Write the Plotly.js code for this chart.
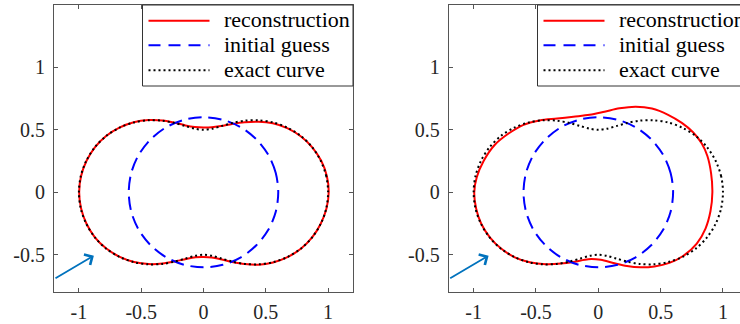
<!DOCTYPE html>
<html>
<head>
<meta charset="utf-8">
<script src="https://cdn.plot.ly/plotly-3.0.1.min.js"></script>
<style>html,body{margin:0;padding:0;overflow:hidden;background:#fff;}#chart{width:750px;height:324px;}</style>
</head>
<body>
<div id="chart"></div>
<script>
// Series names
const seriesNames = ["reconstruction", "initial guess", "exact curve"];

// Exact curve (same in both panels)
const exactX = [1,0.985,0.941,0.872,0.781,0.674,0.559,0.442,0.331,0.230,0.142,0.067,0,-0.067,-0.142,-0.230,-0.331,-0.442,-0.559,-0.674,-0.781,-0.872,-0.941,-0.985,-1,-0.985,-0.941,-0.872,-0.781,-0.674,-0.559,-0.442,-0.331,-0.230,-0.142,-0.067,0,0.067,0.142,0.230,0.331,0.442,0.559,0.674,0.781,0.872,0.941,0.985,1];
const exactY = [0,0.130,0.252,0.361,0.451,0.517,0.559,0.576,0.573,0.554,0.529,0.508,0.500,0.508,0.529,0.554,0.573,0.576,0.559,0.517,0.451,0.361,0.252,0.130,0,-0.130,-0.252,-0.361,-0.451,-0.517,-0.559,-0.576,-0.573,-0.554,-0.529,-0.508,-0.500,-0.508,-0.529,-0.554,-0.573,-0.576,-0.559,-0.517,-0.451,-0.361,-0.252,-0.130,0];

// Initial guess (same in both panels)
const guessX = [0.6,0.58,0.52,0.424,0.3,0.155,0,-0.155,-0.3,-0.424,-0.52,-0.58,-0.6,-0.58,-0.52,-0.424,-0.3,-0.155,0,0.155,0.3,0.424,0.52,0.58,0.6];
const guessY = [0,0.155,0.3,0.424,0.52,0.58,0.6,0.58,0.52,0.424,0.3,0.155,0,-0.155,-0.3,-0.424,-0.52,-0.58,-0.6,-0.58,-0.52,-0.424,-0.3,-0.155,0];

// Reconstruction, left panel
const reconLeftX = [1.005,0.99,0.945,0.873,0.78,0.672,0.556,0.44,0.33,0.23,0.14,0.065,0,-0.07,-0.145,-0.23,-0.33,-0.44,-0.56,-0.675,-0.782,-0.872,-0.94,-0.983,-0.998,-0.983,-0.94,-0.872,-0.78,-0.672,-0.557,-0.44,-0.33,-0.23,-0.14,-0.065,0,0.067,0.14,0.23,0.33,0.44,0.558,0.674,0.781,0.872,0.941,0.987,1.005];
const reconLeftY = [0,0.13,0.252,0.36,0.448,0.513,0.552,0.565,0.561,0.547,0.53,0.52,0.518,0.522,0.535,0.557,0.575,0.578,0.561,0.518,0.451,0.36,0.25,0.128,0,-0.128,-0.25,-0.36,-0.45,-0.517,-0.558,-0.574,-0.57,-0.553,-0.533,-0.52,-0.518,-0.522,-0.536,-0.557,-0.574,-0.58,-0.562,-0.519,-0.452,-0.361,-0.252,-0.13,0];

// Reconstruction, right panel
const reconRightX = [0.915,0.905,0.875,0.83,0.76,0.67,0.56,0.43,0.3,0.17,0.05,-0.07,-0.2,-0.33,-0.47,-0.6,-0.72,-0.83,-0.92,-0.975,-0.995,-0.98,-0.94,-0.87,-0.78,-0.67,-0.55,-0.42,-0.3,-0.19,-0.08,0.02,0.12,0.23,0.34,0.45,0.57,0.68,0.79,0.86,0.9,0.915];
const reconRightY = [0,0.15,0.29,0.39,0.48,0.555,0.62,0.67,0.685,0.672,0.645,0.62,0.605,0.59,0.575,0.54,0.47,0.38,0.25,0.12,0,-0.13,-0.25,-0.36,-0.45,-0.52,-0.56,-0.575,-0.57,-0.555,-0.535,-0.54,-0.565,-0.59,-0.6,-0.593,-0.565,-0.51,-0.41,-0.29,-0.15,0];

// Axis ticks
const xTickVals = [-1, -0.5, 0, 0.5, 1];
const xTickText = ["-1", "-0.5", "0", "0.5", "1"];
const yTickVals = [-0.5, 0, 0.5, 1];
const yTickText = ["-0.5", "0", "0.5", "1"];

// Arrow (tail -> head), data coords
const arrowTail = [-1.2, -0.695];
const arrowHead = [-0.88, -0.507];

const serif = "'Liberation Serif'";
const W = 750, H = 324;
const colors = ['#ff0000', '#0000ff', '#000000'];
const dashes = ['solid', '13px,7px', '2px,3px'];

function panelTraces(xa, ya, rx, ry) {
  const xs = [rx, guessX, exactX], ys = [ry, guessY, exactY];
  return xs.map((xv, i) => ({x: xv, y: ys[i], xaxis: xa, yaxis: ya, name: seriesNames[i], mode: 'lines',
    showlegend: false, line: {color: colors[i], width: 2, dash: dashes[i], shape: 'spline', smoothing: 0.9}}));
}

const data = [].concat(
  panelTraces('x', 'y', reconLeftX, reconLeftY),
  panelTraces('x2', 'y2', reconRightX, reconRightY)
);

function xaxisCfg(dom, anchor) {
  return {domain: dom, anchor: anchor, range: [-1.2, 1.2], tickvals: xTickVals, ticktext: xTickText,
    ticks: 'inside', ticklen: 4, tickcolor: '#555', tickwidth: 1, showline: true, linecolor: '#555', linewidth: 1,
    mirror: 'ticks', showgrid: false, zeroline: false, ticklabelstandoff: 2,
    tickfont: {family: serif, size: 20, color: '#262626'}};
}
function yaxisCfg(anchor) {
  return {domain: [0.09784, 0.98519], anchor: anchor, range: [-0.8, 1.5], tickvals: yTickVals, ticktext: yTickText,
    ticks: 'inside', ticklen: 4, tickcolor: '#555', tickwidth: 1, showline: true, linecolor: '#555', linewidth: 1,
    mirror: 'ticks', showgrid: false, zeroline: false, ticklabelstandoff: 4,
    tickfont: {family: serif, size: 20, color: '#262626'}};
}

// Legend boxes: sample lines and labels placed in paper coordinates
const shapes = [], annotations = [];
function addLegend(boxLeft, boxRight) {
  const px = v => v / W, py = v => (H - v) / H;
  shapes.push({type: 'rect', xref: 'paper', yref: 'paper', x0: px(boxLeft), x1: px(boxRight), y0: py(86), y1: py(5),
    fillcolor: '#ffffff', line: {color: '#333', width: 1}, layer: 'above'});
  const rowY = [20.7, 45.3, 70.3];
  seriesNames.forEach((nm, i) => {
    shapes.push({type: 'line', xref: 'paper', yref: 'paper', x0: px(boxLeft + 6), x1: px(boxLeft + 67),
      y0: py(rowY[i]), y1: py(rowY[i]), line: {color: colors[i], width: 2, dash: i === 1 ? '12px,8px' : dashes[i]}, layer: 'above'});
    annotations.push({xref: 'paper', yref: 'paper', x: px(boxLeft + 79), y: py(rowY[i] - 1), xanchor: 'left', yanchor: 'middle',
      text: nm, showarrow: false, font: {family: serif, size: 22, color: '#000'}});
  });
}
addLegend(142.5, 353);
addLegend(537.5, 760);

function arrowAnn(xr, yr) {
  return {x: arrowHead[0], y: arrowHead[1], ax: arrowTail[0], ay: arrowTail[1], xref: xr, yref: yr,
    axref: xr, ayref: yr, showarrow: true, text: '', arrowhead: 4, arrowsize: 1.3, arrowwidth: 1.8,
    arrowcolor: '#0072BD'};
}
annotations.push(arrowAnn('x', 'y'), arrowAnn('x2', 'y2'));

const layout = {
  width: W, height: H,
  margin: {l: 0, r: 0, t: 0, b: 0},
  paper_bgcolor: '#ffffff', plot_bgcolor: '#ffffff',
  showlegend: false,
  xaxis: xaxisCfg([0.072, 0.47067], 'y'),
  yaxis: yaxisCfg('x'),
  xaxis2: xaxisCfg([0.59827, 0.9972], 'y2'),
  yaxis2: yaxisCfg('x2'),
  shapes: shapes,
  annotations: annotations
};

Plotly.newPlot('chart', data, layout, {displayModeBar: false, staticPlot: true});
</script>
</body>
</html>
